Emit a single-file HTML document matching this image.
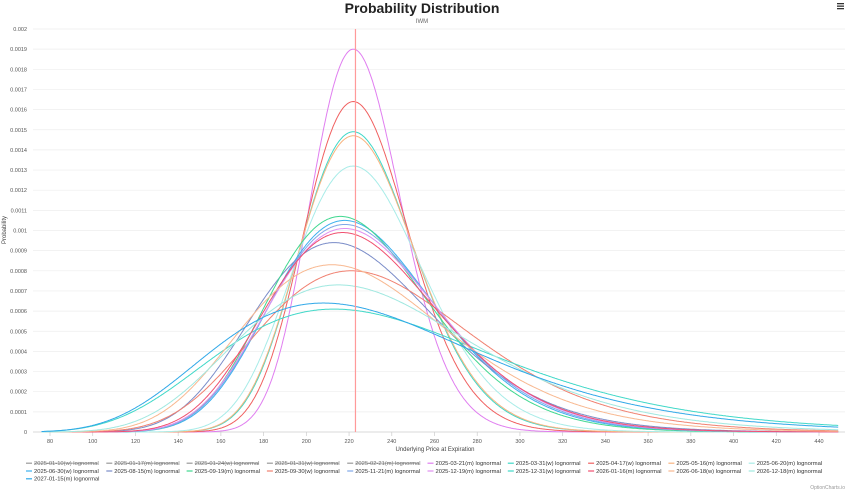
<!DOCTYPE html>
<html><head><meta charset="utf-8"><style>
body{margin:0;background:#fff;width:850px;height:490px;overflow:hidden;font-family:"Liberation Sans",sans-serif}
</style></head><body>
<svg id="c" width="850" height="490" xmlns="http://www.w3.org/2000/svg">
<text x="422" y="13" text-anchor="middle" font-size="14" font-weight="bold" fill="#222">Probability Distribution</text>
<text x="422" y="23" text-anchor="middle" font-size="6" fill="#666">IWM</text>
<g><rect x="837" y="3" width="7" height="1.3" fill="#333"/><rect x="837" y="5.5" width="7" height="1.3" fill="#333"/><rect x="837" y="8" width="7" height="1.3" fill="#333"/></g>
<text transform="translate(6,230) rotate(-90)" text-anchor="middle" font-size="6" fill="#444">Probability</text>
<text x="435" y="451" text-anchor="middle" font-size="6" fill="#444">Underlying Price at Expiration</text>
<text x="845" y="489" text-anchor="end" font-size="5" fill="#999">OptionCharts.io</text>
<g id="grid"></g><g id="series"></g><g id="legend"></g>
</svg>
<script>
const yTicks=[0,0.0001,0.0002,0.0003,0.0004,0.0005,0.0006,0.0007,0.0008,0.0009,0.001,0.0011,0.0012,0.0013,0.0014,0.0015,0.0016,0.0017,0.0018,0.0019,0.002];
const xTicks=[80,100,120,140,160,180,200,220,240,260,280,300,320,340,360,380,400,420,440];
const names=["2025-01-10(w) lognormal","2025-01-17(m) lognormal","2025-01-24(w) lognormal","2025-01-31(w) lognormal","2025-02-21(m) lognormal","2025-03-21(m) lognormal","2025-03-31(w) lognormal","2025-04-17(w) lognormal","2025-05-16(m) lognormal","2025-06-20(m) lognormal","2025-06-30(w) lognormal","2025-08-15(m) lognormal","2025-09-19(m) lognormal","2025-09-30(w) lognormal","2025-11-21(m) lognormal","2025-12-19(m) lognormal","2025-12-31(w) lognormal","2026-01-16(m) lognormal","2026-06-18(w) lognormal","2026-12-18(m) lognormal","2027-01-15(m) lognormal"];
const visible=[0,0,0,0,0,1,1,1,1,1,1,1,1,1,1,1,1,1,1,1,1];
const colors=["#666","#666","#666","#666","#666","#e07ef0","#3ed8c8","#f06060","#f8b480","#a8ece8","#3cb0ee","#7a8cc8","#40d890","#f08070","#80a8e8","#e090f0","#40d8c8","#f05070","#f8b890","#a0e8e0","#30a8e8"];
const modes=[222,222,222,222,222,222,222,222,222,222,218,213,216,221,218,218,213,217,212,215,208];
const peaks=[0,0,0,0,0,0.0019,0.00149,0.00164,0.00147,0.00132,0.00105,0.00094,0.00107,0.0008,0.00103,0.00101,0.00061,0.00099,0.00083,0.00073,0.00064];
const spot=223;
const X0=50,X1=819,PL=33,PR=845,Y0=432,Y1=29;
const xs=v=>X0+(v-80)*(X1-X0)/360, ys=v=>Y0-v*(Y0-Y1)/0.002;
const NS="http://www.w3.org/2000/svg";
function mk(t,a,p){const e=document.createElementNS(NS,t);for(const k in a)e.setAttribute(k,a[k]);p.appendChild(e);return e;}
const g=document.getElementById('grid');
yTicks.forEach(v=>{const y=ys(v);
 const l=mk('line',{x1:PL,x2:PR,y1:y,y2:y,stroke:v===0?'#ccc':'#eee','stroke-width':0.7},g);
 
 
 const t=mk('text',{x:27,y:y+2,'text-anchor':'end','font-size':5.5,fill:'#555'},g);t.textContent=+v.toFixed(4)+'';
 
 });
xTicks.forEach(v=>{const x=xs(v);
 mk('line',{x1:x,x2:x,y1:Y0,y2:Y0+4,stroke:'#ccc','stroke-width':0.7},g);
 const t=mk('text',{x:x,y:443,'text-anchor':'middle','font-size':5.5,fill:'#555'},g);t.textContent=v;
 
 });
const s=document.getElementById('series');
names.forEach((n,i)=>{if(!visible[i])return;
 const m=modes[i],p=peaks[i];const sd=0.04/(p*m);
 const mu=Math.log(m)+sd*sd;
 const f=x=>Math.exp(-Math.pow(Math.log(x)-mu,2)/(2*sd*sd))/x;
 const fm=f(m);let d='';
 for(let x=76;x<=449;x+=0.5){const v=p*f(x)/fm;d+=(d?'L':'M')+xs(x).toFixed(1)+','+ys(v).toFixed(1);}
 const path=mk('path',{d:d,fill:'none',stroke:colors[i],'stroke-width':1},s);
 
 });
const sl=mk('rect',{x:xs(spot)-0.6,y:Y1,width:1.2,height:Y0-Y1},s);
sl.setAttribute('style','fill:#ff9a9a;stroke:none');


const lg=document.getElementById('legend');
names.forEach((n,i)=>{const col=i%10,row=Math.floor(i/10);const x=26+col*80.3,y=465+row*7.8;
 const gg=mk('g',{},lg);
 
 
 mk('line',{x1:x,x2:x+6,y1:y-1.8,y2:y-1.8,stroke:visible[i]?colors[i]:'#999','stroke-width':1.2},gg);
 const t=mk('text',{x:x+8,y:y,'font-size':5.8,fill:visible[i]?'#333':'#777'},gg);t.textContent=n;
 if(!visible[i])mk('line',{x1:x+8,x2:x+72,y1:y-1.9,y2:y-1.9,stroke:'#555','stroke-width':0.5},gg);});
</script>
</body></html>
